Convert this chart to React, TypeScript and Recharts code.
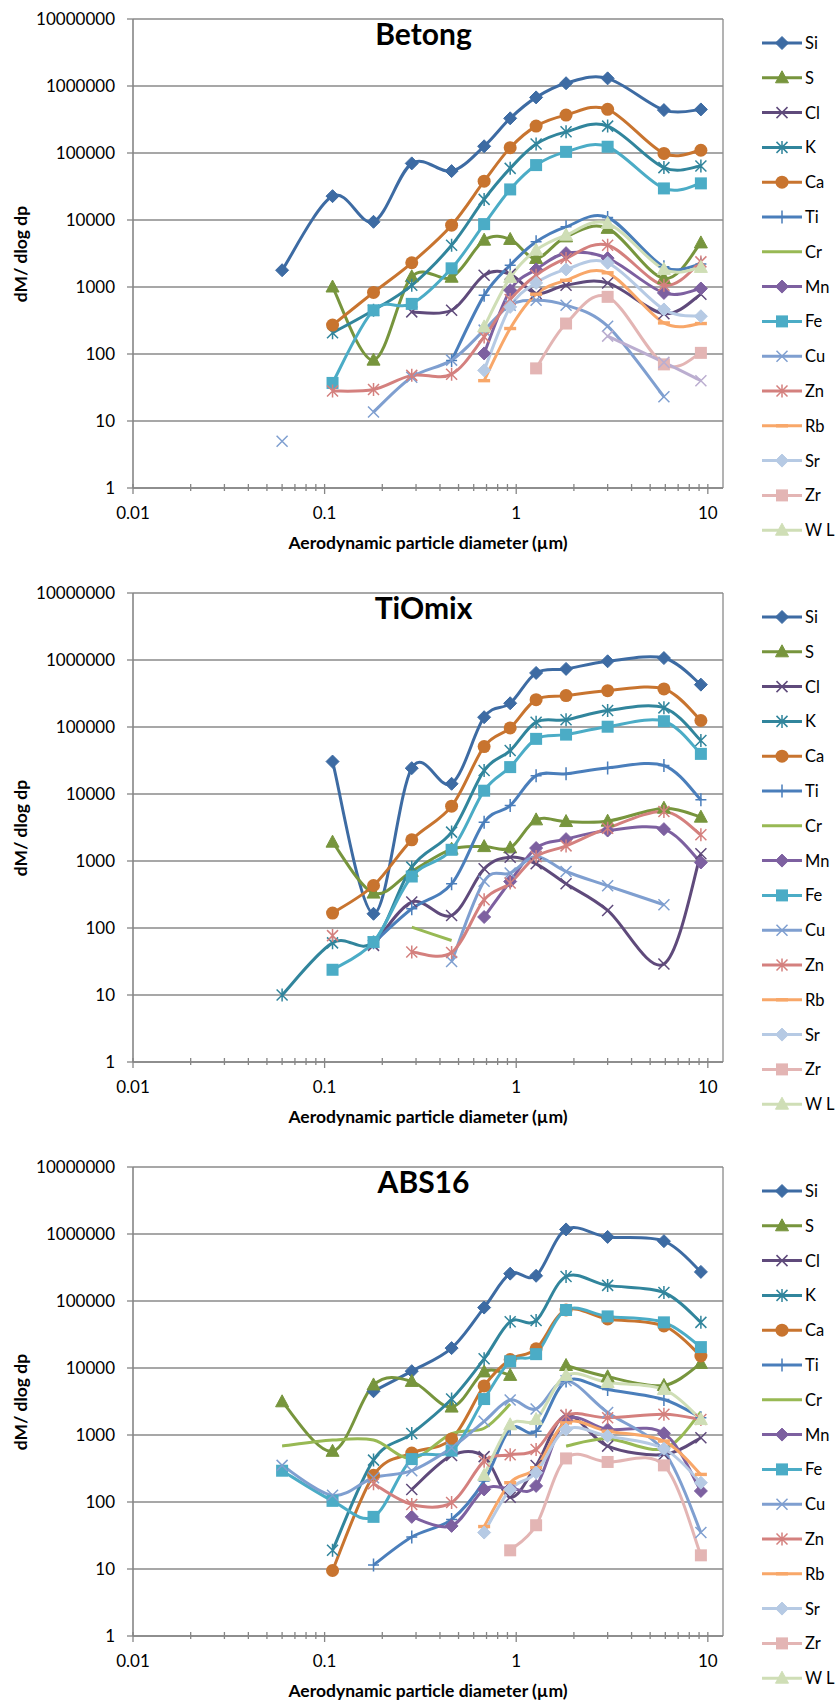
import React from 'react';
import { LineChart, Line, XAxis, YAxis, CartesianGrid, ReferenceLine } from 'recharts';

const _ = null;

// stage diameters (µm) shared by all three panels
const SIZES = [0.06, 0.11, 0.18, 0.285, 0.46, 0.68, 0.93, 1.27, 1.82, 3.0, 5.9, 9.2];
const Y_TICKS = [1, 10, 100, 1000, 10000, 100000, 1000000, 10000000];
const X_MAJOR = [0.01, 0.1, 1, 10];
const X_MINOR = [
  0.02, 0.03, 0.04, 0.05, 0.06, 0.07, 0.08, 0.09,
  0.2, 0.3, 0.4, 0.5, 0.6, 0.7, 0.8, 0.9,
  2, 3, 4, 5, 6, 7, 8, 9,
];

// Betong
const betongSi = [1780, 22700, 9400, 70000, 53700, 126000, 329000, 676000, 1100000, 1300000, 437000, 447000];
const betongS = [_, 1000, 81, 1420, 1400, 5000, 5130, 2670, 5600, 7500, 1340, 4550];
const betongCl = [_, _, _, 425, 450, 1500, 1550, 800, 1060, 1150, 400, 780];
const betongK = [_, 207, 450, 1060, 4200, 20300, 59000, 136000, 207000, 252000, 60500, 64000];
const betongCa = [_, 270, 830, 2300, 8380, 38000, 120000, 252000, 368000, 448000, 98700, 110000];
const betongTi = [_, _, _, _, 80, 750, 2120, 4720, 7900, 10900, 2000, 2200];
const betongMn = [_, _, _, _, _, 102, 896, 1830, 3200, 2700, 816, 950];
const betongFe = [_, 37, 449, 560, 1900, 8680, 28600, 66000, 104000, 124000, 29600, 35200];
const betongCu = [5, _, 13.6, 45, 81, 227, 535, 636, 535, 260, 23, _];
const betongZn = [_, 28, 29.5, 48, 50, 180, 650, 1500, 2670, 4210, 1060, 2370];
const betongRb = [_, _, _, _, _, 40, 240, 781, 1260, 1630, 291, 285];
const betongSr = [_, _, _, _, _, 57, 505, 1150, 1830, 2300, 462, 366];
const betongZr = [_, _, _, _, _, _, _, 61, 285, 713, 70, 104];
const betongWL = [_, _, _, _, _, 254, 1390, 3550, 5940, 8900, 1830, 1960];
const betongX16 = [_, _, _, _, _, _, _, _, _, 185, 75, 40];

// TiOmix
const tiomixSi = [_, 30500, 163, 24300, 14200, 140000, 226000, 641000, 736000, 957000, 1070000, 429000];
const tiomixS = [_, 1910, 332, 700, 1500, 1640, 1570, 4110, 3880, 3930, 6140, 4510];
const tiomixCl = [_, _, 55, 244, 154, 764, 1140, 908, 457, 183, 29, 1280];
const tiomixK = [10, 60, 62, 810, 2700, 22400, 44500, 118000, 128000, 176000, 193000, 62700];
const tiomixCa = [_, 167, 431, 2070, 6580, 51000, 97000, 256000, 294000, 349000, 370000, 125000];
const tiomixTi = [_, _, 60, 194, 457, 3800, 6720, 18800, 20000, 24500, 26600, 8180];
const tiomixCr = [_, _, _, 103, 65, _, _, _, _, _, _, _];
const tiomixMn = [_, _, _, _, _, 146, 494, 1560, 2120, 2850, 2990, 950];
const tiomixFe = [_, 23.8, 61.7, 587, 1470, 11200, 25200, 66500, 77000, 101000, 122000, 39700];
const tiomixCu = [_, _, _, _, 31.7, 500, 660, 1170, 697, 426, 222, _];
const tiomixZn = [_, 77, _, 43.7, 43, 264, 468, 1170, 1680, 3090, 5470, 2460];

// ABS16
const absSi = [_, _, 4500, 8970, 19800, 79800, 256000, 238000, 1170000, 904000, 782000, 272000];
const absS = [3130, 571, 5590, 6310, 2610, 8750, 7760, _, 10900, 7400, 5490, 11700];
const absCl = [_, _, _, 154, 495, 476, 118, 350, 1960, 682, 510, 910];
const absK = [_, 19, 422, 1050, 3440, 13700, 49100, 51000, 232000, 171000, 134000, 48000];
const absCa = [_, 9.5, 250, 537, 875, 5400, 13400, 19300, 73400, 54000, 42500, 15100];
const absTi = [_, _, 11.5, 30, 55, 205, 1240, 1140, 6370, 4790, 3390, 1810];
const absCr = [685, 840, 840, 447, 1050, 1260, 2900, _, 682, 880, 624, 2190];
const absMn = [_, _, _, 60, 44, 154, 160, 174, 1670, 1210, 1060, 146];
const absFe = [293, 104, 60, 437, 585, 3440, 12600, 16100, 73400, 58900, 48000, 20500];
const absCu = [352, 126, 230, 293, 644, 1600, 3330, 2450, 6470, 2170, 571, 35];
const absZn = [_, _, 187, 92, 98, 406, 506, 607, 1970, 1810, 2040, 1700];
const absRb = [_, _, _, _, _, 43, 194, 325, 1520, 1140, 811, 258];
const absSr = [_, _, _, _, _, 35, 154, 274, 1210, 963, 624, 194];
const absZr = [_, _, _, _, _, _, 19, 45, 447, 396, 352, 16];
const absWL = [_, _, _, _, _, 250, 1420, 1700, 7760, 6080, 4790, 1700];

const FONT = "Lato, 'Open Sans', sans-serif";
const GRID = '#8a8a8a';
const AXIS = '#868686';

const SERIES = [
  { key: 'Si', label: 'Si', color: '#3D6BA3', marker: 'diamond' },
  { key: 'S', label: 'S', color: '#77953D', marker: 'triangle' },
  { key: 'Cl', label: 'Cl', color: '#5F4A7B', marker: 'x' },
  { key: 'K', label: 'K', color: '#31859C', marker: 'star' },
  { key: 'Ca', label: 'Ca', color: '#C8742F', marker: 'circle' },
  { key: 'Ti', label: 'Ti', color: '#4A7EBB', marker: 'plus' },
  { key: 'Cr', label: 'Cr', color: '#98B954', marker: 'none' },
  { key: 'Mn', label: 'Mn', color: '#7D60A0', marker: 'diamond' },
  { key: 'Fe', label: 'Fe', color: '#4BACC6', marker: 'square' },
  { key: 'Cu', label: 'Cu', color: '#7F9FD0', marker: 'x' },
  { key: 'Zn', label: 'Zn', color: '#D4807E', marker: 'star' },
  { key: 'Rb', label: 'Rb', color: '#F8A769', marker: 'dash' },
  { key: 'Sr', label: 'Sr', color: '#B6CAE4', marker: 'diamond' },
  { key: 'Zr', label: 'Zr', color: '#E3B5B4', marker: 'square' },
  { key: 'WL', label: 'W L', color: '#CFDEB6', marker: 'triangle' },
  { key: 'X16', label: '', color: '#BBAED0', marker: 'x' },
];

function buildRows(data: Record<string, (number | null)[]>) {
  return SIZES.map((x, i) => {
    const row: any = { x };
    Object.keys(data).forEach(k => (row[k] = data[k][i] ?? null));
    return row;
  });
}

const betongRows = buildRows({
  Si: betongSi, S: betongS, Cl: betongCl, K: betongK, Ca: betongCa, Ti: betongTi, Mn: betongMn,
  Fe: betongFe, Cu: betongCu, Zn: betongZn, Rb: betongRb, Sr: betongSr, Zr: betongZr, WL: betongWL, X16: betongX16,
});
const tiomixRows = buildRows({
  Si: tiomixSi, S: tiomixS, Cl: tiomixCl, K: tiomixK, Ca: tiomixCa, Ti: tiomixTi, Cr: tiomixCr,
  Mn: tiomixMn, Fe: tiomixFe, Cu: tiomixCu, Zn: tiomixZn,
});
const absRows = buildRows({
  Si: absSi, S: absS, Cl: absCl, K: absK, Ca: absCa, Ti: absTi, Cr: absCr, Mn: absMn, Fe: absFe,
  Cu: absCu, Zn: absZn, Rb: absRb, Sr: absSr, Zr: absZr, WL: absWL,
});

// Excel-like smoothed line (Catmull-Rom through the points)
const excelSmooth: any = (context: any) => {
  let pts: number[][] = [];
  return {
    areaStart() {},
    areaEnd() {},
    lineStart() { pts = []; },
    point(x: number, y: number) { pts.push([+x, +y]); },
    lineEnd() {
      const n = pts.length;
      if (!n) return;
      context.moveTo(pts[0][0], pts[0][1]);
      for (let i = 0; i < n - 1; i++) {
        const p0 = pts[i - 1] || pts[i];
        const p1 = pts[i];
        const p2 = pts[i + 1];
        const p3 = pts[i + 2] || p2;
        context.bezierCurveTo(
          p1[0] + (p2[0] - p0[0]) / 6, p1[1] + (p2[1] - p0[1]) / 6,
          p2[0] - (p3[0] - p1[0]) / 6, p2[1] - (p3[1] - p1[1]) / 6,
          p2[0], p2[1],
        );
      }
    },
  };
};

function Marker({ kind, x, y, color }: { kind: string; x: number; y: number; color: string }) {
  const w = 1.5;
  switch (kind) {
    case 'diamond':
      return <path d={`M${x},${y - 6.5}L${x + 6.5},${y}L${x},${y + 6.5}L${x - 6.5},${y}Z`} fill={color} stroke={color} strokeWidth={1} />;
    case 'triangle':
      return <path d={`M${x},${y - 7}L${x + 6.5},${y + 5}L${x - 6.5},${y + 5}Z`} fill={color} stroke={color} strokeWidth={1} />;
    case 'circle':
      return <circle cx={x} cy={y} r={6.5} fill={color} />;
    case 'square':
      return <rect x={x - 6} y={y - 6} width={12} height={12} fill={color} />;
    case 'x':
      return <path d={`M${x - 5.5},${y - 5.5}L${x + 5.5},${y + 5.5}M${x + 5.5},${y - 5.5}L${x - 5.5},${y + 5.5}`} stroke={color} strokeWidth={w} fill="none" />;
    case 'star':
      return <path d={`M${x - 5.5},${y - 5.5}L${x + 5.5},${y + 5.5}M${x + 5.5},${y - 5.5}L${x - 5.5},${y + 5.5}M${x},${y - 6.5}L${x},${y + 6.5}`} stroke={color} strokeWidth={w} fill="none" />;
    case 'plus':
      return <path d={`M${x - 5.5},${y}L${x + 5.5},${y}M${x},${y - 6.5}L${x},${y + 6.5}`} stroke={color} strokeWidth={w} fill="none" />;
    case 'dash':
      return <rect x={x - 6} y={y - 1.7} width={12} height={3.4} fill={color} />;
    default:
      return null;
  }
}

const XTick = (props: any) => {
  const { x, y, payload } = props;
  const major = X_MAJOR.includes(payload.value);
  return (
    <g>
      <line x1={x} x2={x} y1={y - 4} y2={y + (major ? 6 : 3)} stroke={AXIS} strokeWidth={1.3} />
      {major && (
        <text x={x} y={y + 31} textAnchor="middle" fontSize={17} fill="#000" fontFamily={FONT}>
          {String(payload.value)}
        </text>
      )}
    </g>
  );
};

function ElementChart({ title, rows, height }: { title: string; rows: any[]; height: number }) {
  const keys = Object.keys(rows[0]);
  const shown = SERIES.filter(s => keys.includes(s.key));
  return (
    <div style={{ position: 'relative', width: 837, height, fontFamily: FONT }}>
      <LineChart width={837} height={height} data={rows} margin={{ top: 19, right: 114, bottom: height - 518, left: 33 }}>
        <CartesianGrid vertical={false} stroke={GRID} strokeWidth={1.3} />
        <XAxis
          dataKey="x" type="number" scale="log" domain={[0.01, 12]} allowDataOverflow
          ticks={[...X_MAJOR, ...X_MINOR]} interval={0} tickSize={0} tickMargin={0} tickLine={false}
          tick={(p: any) => <XTick {...p} />} height={30} axisLine={{ stroke: AXIS, strokeWidth: 1.6 }}
        />
        <YAxis
          type="number" scale="log" domain={[1, 10000000]} allowDataOverflow ticks={Y_TICKS} interval={0}
          width={100} tickSize={6} tickMargin={12}
          tick={{ fontSize: 17, fill: '#000', fontFamily: FONT }}
          tickLine={{ stroke: AXIS, strokeWidth: 1.3 }} axisLine={{ stroke: AXIS, strokeWidth: 1.6 }}
        />
        <ReferenceLine x={12} stroke={GRID} strokeWidth={1.3} />
        {shown.map(s => (
          <Line
            key={s.key} dataKey={s.key} type={excelSmooth} stroke={s.color} strokeWidth={3}
            activeDot={false} isAnimationActive={false} connectNulls={false}
            dot={(p: any) =>
              p.value == null || !Number.isFinite(p.cy) ? (
                <g key={`${s.key}-${p.index}`} />
              ) : (
                <g key={`${s.key}-${p.index}`}>
                  <Marker kind={s.marker} x={p.cx} y={p.cy} color={s.color} />
                </g>
              )
            }
          />
        ))}
      </LineChart>
      <svg width={837} height={height} style={{ position: 'absolute', left: 0, top: 0, pointerEvents: 'none' }}>
        <text x={423.5} y={45} textAnchor="middle" fontSize={30} fontWeight="bold" fontFamily={FONT}>{title}</text>
        <text transform="translate(27,254) rotate(-90)" textAnchor="middle" fontSize={17.5} fontWeight="bold" fontFamily={FONT}>
          dM/ dlog dp
        </text>
        <text x={428} y={549} textAnchor="middle" fontSize={17.5} fontWeight="bold" fontFamily={FONT}>
          Aerodynamic particle diameter (µm)
        </text>
        {SERIES.filter(s => s.label).map((s, i) => {
          const y = 43 + i * 34.8;
          return (
            <g key={s.key}>
              <line x1={762} x2={802} y1={y} y2={y} stroke={s.color} strokeWidth={3} />
              <Marker kind={s.marker} x={782} y={y} color={s.color} />
              <text x={805} y={y + 6} fontSize={16.5} fontFamily={FONT} fill="#000">{s.label}</text>
            </g>
          );
        })}
      </svg>
    </div>
  );
}

export default function App() {
  return (
    <div style={{ width: 837, background: '#fff' }}>
      <style>{'body{margin:0;background:#fff}'}</style>
      <ElementChart title="Betong" rows={betongRows} height={574} />
      <ElementChart title="TiOmix" rows={tiomixRows} height={574} />
      <ElementChart title="ABS16" rows={absRows} height={554} />
    </div>
  );
}
